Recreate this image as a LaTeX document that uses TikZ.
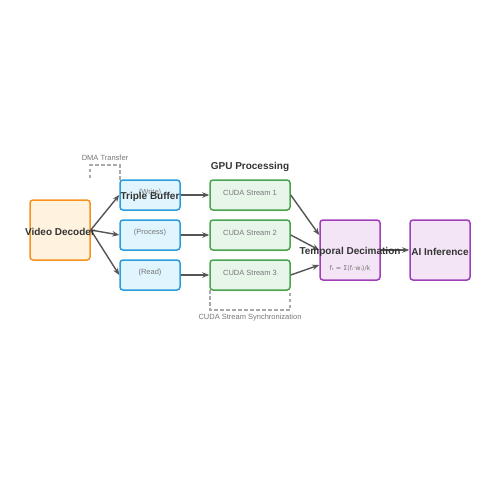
\documentclass[tikz,border=0pt]{standalone}
\usepackage{fontspec}
\setmainfont{Liberation Sans}
\newfontfamily\dejavu{DejaVu Sans}
\usetikzlibrary{arrows.meta}
\definecolor{txtdark}{HTML}{333333}
\definecolor{txtgray}{HTML}{777777}
\definecolor{arrowc}{HTML}{555555}
\definecolor{orangeb}{HTML}{F5921E}
\definecolor{orangef}{HTML}{FFF3E0}
\definecolor{blueb}{HTML}{2D9CDB}
\definecolor{bluef}{HTML}{E1F5FE}
\definecolor{greenb}{HTML}{4CA34F}
\definecolor{greenf}{HTML}{E8F5E9}
\definecolor{purpb}{HTML}{A040B8}
\definecolor{purpf}{HTML}{F3E5F5}
\definecolor{dashc}{HTML}{AAAAAA}
\begin{document}
\begin{tikzpicture}[x=1pt,y=-1pt,
  boxbase/.style={draw, line width=1.5pt, rounded corners=3pt, inner sep=0pt},
  decbox/.style={boxbase, draw=orangeb, fill=orangef, minimum width=60pt, minimum height=60pt},
  bufbox/.style={boxbase, draw=blueb, fill=bluef, minimum width=60pt, minimum height=30pt},
  gpubox/.style={boxbase, draw=greenb, fill=greenf, minimum width=80pt, minimum height=30pt},
  purbox/.style={boxbase, draw=purpb, fill=purpf, minimum width=60pt, minimum height=60pt},
  bigl/.style={font=\fontsize{10}{12}\selectfont\bfseries, text=txtdark, inner sep=0pt},
  smalll/.style={font=\fontsize{7.5}{9}\selectfont, text=txtgray, inner sep=0pt},
  conn/.style={draw=arrowc, line width=1.4pt, -{Stealth[length=7pt,width=5.5pt]}},
  dashl/.style={draw=dashc, line width=1.3pt, dash pattern=on 3.5pt off 2.5pt}
]
\useasboundingbox (0,0) rectangle (500,500);
% dashed helpers
\draw[dashl] (90,178) -- (90,165) -- (120,165) -- (120,180);
\draw[dashl] (210,290) -- (210,310) -- (290,310) -- (290,290);
% nodes
\node[decbox] (dec) at (60,230) {};
\node[bufbox] (b1) at (150,195) {};
\node[bufbox] (b2) at (150,235) {};
\node[bufbox] (b3) at (150,275) {};
\node[gpubox] (g1) at (250,195) {};
\node[gpubox] (g2) at (250,235) {};
\node[gpubox] (g3) at (250,275) {};
\node[purbox] (td) at (350,250) {};
\node[purbox] (ai) at (440,250) {};
% labels
\node[smalll] (dmal) at (105,158) {DMA Transfer};
\node[bigl] (gpul) at (250,167) {GPU Processing};
\node[smalll] (syncl) at (250,318) {CUDA Stream Synchronization};
\node[smalll] (w) at (150,193) {(Write)};
\node[smalll] (p) at (150,233) {(Process)};
\node[smalll] (r) at (150,273) {(Read)};
\node[smalll] (s1) at (250,193) {CUDA Stream 1};
\node[smalll] (s2) at (250,233) {CUDA Stream 2};
\node[smalll] (s3) at (250,273) {CUDA Stream 3};
\node[smalll, font=\fontsize{6.5}{8}\dejavu] (fm) at (350,268) {fₜ = Σ(fᵢ·wᵢ)/k};
% connectors
\draw[conn] (dec.east) -- (b1.west);
\draw[conn] (dec.east) -- (b2.west);
\draw[conn] (dec.east) -- (b3.west);
\draw[conn] (b1.east) -- (g1.west);
\draw[conn] (b2.east) -- (g2.west);
\draw[conn] (b3.east) -- (g3.west);
\draw[conn] (g1.east) -- ([yshift=15pt]td.west);
\draw[conn] (g2.east) -- (td.west);
\draw[conn] (g3.east) -- ([yshift=-15pt]td.west);
\draw[conn] (td.east) -- (ai.west);
% big labels on top
\node[bigl] (decl) at (60,232) {Video Decoder};
\node[bigl] (tbl) at (150,197) {Triple Buffer};
\node[bigl] (tdl) at (350,252) {Temporal Decimation};
\node[bigl] (ail) at (440,252) {AI Inference};
\end{tikzpicture}
\end{document}
